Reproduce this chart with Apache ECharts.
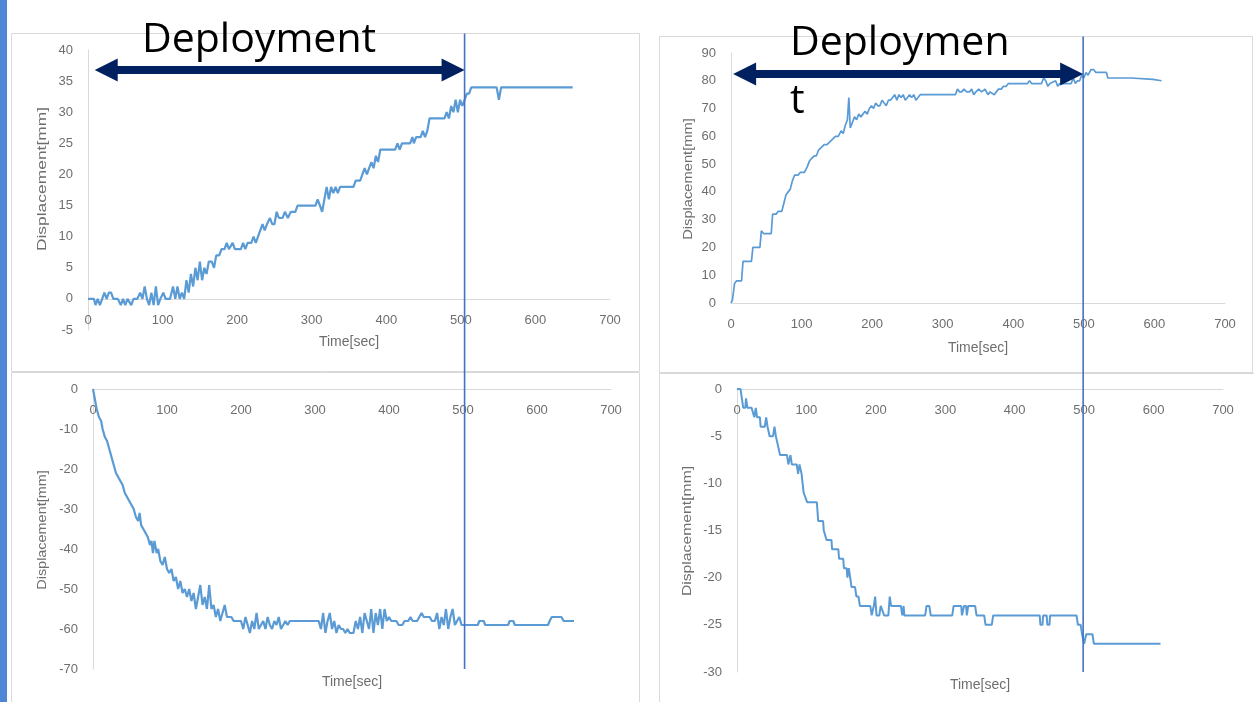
<!DOCTYPE html>
<html><head><meta charset="utf-8">
<script src="https://cdn.jsdelivr.net/npm/echarts@6/dist/echarts.min.js"></script>
<style>html,body{margin:0;padding:0;background:#fff;overflow:hidden}#c{width:1254px;height:702px}</style>
</head><body><div id="c"></div>
<script>
// ---- tick labels ----
const timeTicks = [0, 100, 200, 300, 400, 500, 600, 700];
const tlTicks = [-5, 0, 5, 10, 15, 20, 25, 30, 35, 40];
const trTicks = [0, 10, 20, 30, 40, 50, 60, 70, 80, 90];
const blTicks = [-70, -60, -50, -40, -30, -20, -10, 0];
const brTicks = [-30, -25, -20, -15, -10, -5, 0];

// ---- top-left series ----
const tlTime = [0,8,10,13,16,19,22,25,28,31, 34,40,44,47,50,53,58,61,66,70, 73,76,79,82,85,88,91,94,97,101,
  104,110,114,117,120,123,126,129,132,135, 138,141,144,147,150,153,156,159,162,166, 169,172,176,179,183,186,189,194,197,205,
  208,211,214,219,222,225,228,231,234,237, 240,244,247,250,253,256,261,264,268,272, 278,281,305,308,311,314,317,320,323,326,
  329,332,335,338,356,359,365,368,371,374, 377,380,383,386,389,392,412,415,418,421, 432,435,437,440,446,449,452,455,458,478,
  481,484,487,490,493,496,499,502,505,508, 511,514,548,551,554,650];
const tlDisp = [0,0,-1,0,-1,0,1,0,1,1, 0,0,-1,0,-1,0,-1,0,0,1, 0,2,0,-1,1,-1,2,-1,0,1,
  0,0,2,0,2,0,1,0,3,1, 4,2,5,3,6,3,5,4,6,6, 5,7,7,8,8,9,8,9,8,8,
  9,8,9,9,10,9,10,11,12,11, 12,13,12,12,14,13,13,14,13,14, 14,15,15,16,15,14,16,18,16,18,
  17,18,17,18,18,19,19,20,21,20, 21,22,21,23,22,24,24,25,24,25, 25,26,25,26,26,27,26,27,29,29,
  30,29,31,30,32,30,32,31,32,33, 33,34,34,32,34,34];

// ---- top-right series ----
const trTime = [0,2,5,8,15,17,29,31,41,43, 46,57,59,64,67,72,75,78,81,84, 87,90,95,98,104,108,111,114,118,121,
  124,128,132,136,140,144,148,152,156,159, 162,165,167,169,172,175,178,181,184,187, 190,193,196,199,202,205,208,211,214,217,
  220,223,226,229,232,235,238,241,244,247, 250,253,256,259,262,265,268,275,318,321, 324,327,330,334,338,341,344,347,351,355,
  360,364,367,373,376,379,383,386,390,393, 420,423,426,440,443,446,449,452,460,463, 466,482,485,488,491,494,497,500,503,506,
  510,514,517,532,534,567,569,598,600,610];
const trDisp = [0,1,7,8,8,15,15,20,20,26, 25,25,32,32,33,33,36,39,40,41, 44,46,46,47,47,49,51,52,53,53,
  55,56,57,57,58,59,60,60,62,61, 64,66,74,63,65,67,66,68,67,68, 69,68,70,71,70,72,71,71,73,72,
  71,73,73,74,75,73,75,74,75,73, 74,75,74,75,73,74,75,75,75,77, 76,76,77,76,76,77,75,76,77,76,
  77,75,76,75,76,77,77,78,78,79, 79,80,79,79,81,80,78,79,80,78, 79,79,81,79,80,80,82,81,83,82,
  84,84,83,83,81,81,80.5,80.5,80,80];

// ---- bottom-left series ----
const blTime = [0,2,5,8,11,13,16,19,22,25, 28,31,34,37,40,43,46,49,52,55, 58,61,63,65,68,71,74,77,79,81,
  83,86,88,91,94,97,100,103,106,109, 112,115,118,121,124,127,130,133,136,139, 142,145,148,151,154,157,160,163,166,169,
  172,175,178,181,184,187,190,195,200,203, 206,209,212,215,218,221,224,227,230,233, 236,239,242,245,248,251,254,257,260,263,
  266,270,305,308,311,314,317,320,323,326, 329,332,335,338,341,344,347,352,355,358, 361,364,367,370,373,376,379,382,385,388,
  391,394,397,400,403,410,413,418,421,426, 429,432,438,441,444,447,455,458,462,465, 468,471,474,477,480,483,486,489,492,495,
  498,503,520,522,528,530,561,563,568,570, 615,617,620,633,636,650];
const blDisp = [0,-2,-5,-7,-8,-10,-12,-13,-15,-17, -19,-21,-22,-23,-24,-26,-27,-28,-29,-30, -32,-33,-31,-34,-35,-36,-37,-39,-38,-41,
  -38,-41,-40,-43,-44,-42,-45,-46,-45,-48, -47,-50,-48,-51,-50,-52,-50,-53,-51,-55, -52,-49,-54,-52,-55,-49,-55,-54,-57,-55,
  -58,-56,-54,-57,-57,-57,-58,-58,-58,-60, -57,-59,-61,-58,-60,-56,-60,-59,-58,-60, -57,-59,-60,-58,-59,-57,-60,-59,-58,-59,
  -58,-58,-58,-60,-56,-61,-58,-56,-60,-58, -61,-59,-60,-60,-61,-60,-61,-61,-58,-60, -57,-61,-56,-58,-60,-55,-61,-56,-59,-55,
  -60,-55,-58,-57,-58,-58,-59,-59,-58,-58, -57,-58,-58,-57,-56,-57,-57,-58,-58,-56, -60,-57,-59,-55,-60,-57,-55,-59,-58,-57,
  -59,-59,-59,-58,-58,-59,-59,-58,-58,-59, -59,-58,-57,-57,-58,-58];

// ---- bottom-right series ----
const brTime = [0,5,7,9,12,13,15,21,23,25, 27,29,33,34,40,42,44,47,52,54, 56,59,62,72,74,77,79,86,88,90,
  93,96,101,115,117,124,125,129,136,137, 146,147,153,154,158,159,161,163,165,170, 172,175,177,192,194,197,199,201,205,207,
  212,218,220,222,236,238,240,241,271,273, 277,279,310,312,323,324,326,327,330,331, 333,343,345,356,358,367,369,436,437,440,
  441,446,447,450,451,489,491,495,497,500, 503,506,512,514,610];
const brDisp = [0,0,-1,-2,-2,-1,-2,-2,-2,-3, -2,-3,-3,-4,-4,-3,-4,-5,-5,-4, -5,-6,-7,-7,-8,-7,-8,-8,-9,-8,
  -9,-11,-12,-12,-14,-14,-15,-16,-16,-17, -17,-18,-18,-19,-19,-20,-19,-20,-21,-21, -22,-22,-23,-23,-24,-23,-22,-24,-24,-23,
  -24,-24,-22,-23,-23,-24,-23,-24,-24,-23, -23,-24,-24,-23,-23,-24,-24,-23,-23,-24, -23,-23,-24,-24,-25,-25,-24,-24,-25,-25,
  -24,-24,-25,-25,-24,-24,-25,-25,-26,-27, -26,-26,-26,-27,-27];

// deployment annotations (data units)
const deployTL = {start: 9, end: 505, level: 36.8};
const deployTR = {start: 3, end: 499, level: 82.4};

const lineColor = '#5b9bd5';
const axisGray = '#d9d9d9';
const labelGray = '#6e6e6e';
const labelFont = 'Liberation Sans';

const zip = (a, b) => a.map((t, i) => [t, b[i]]);

const grids = [
  {left: 88, top: 50, width: 522, height: 280},
  {left: 731, top: 53, width: 494, height: 250},
  {left: 93, top: 389, width: 518, height: 280},
  {left: 737, top: 389, width: 486, height: 283}
];

function xAxis(gi, nameGap) {
  return {
    type: 'value', gridIndex: gi, position: 'bottom', offset: 0,
    min: timeTicks[0], max: timeTicks[timeTicks.length - 1], interval: timeTicks[1] - timeTicks[0],
    axisLine: {show: true, onZero: false, lineStyle: {color: axisGray, width: 1}},
    axisTick: {show: false}, splitLine: {show: false},
    axisLabel: {color: labelGray, fontSize: 13, fontFamily: labelFont, margin: 15},
    name: 'Time[sec]', nameLocation: 'middle', nameGap: nameGap,
    nameTextStyle: {color: labelGray, fontSize: 14, fontFamily: labelFont}
  };
}
function yAxis(gi, ticks) {
  return {
    type: 'value', gridIndex: gi,
    min: ticks[0], max: ticks[ticks.length - 1], interval: ticks[1] - ticks[0],
    axisLine: {show: true, onZero: false, lineStyle: {color: axisGray, width: 1}},
    axisTick: {show: false}, splitLine: {show: false},
    axisLabel: {color: labelGray, fontSize: 13, fontFamily: labelFont, margin: 15}
  };
}
function series(gi, t, v, w) {
  return {type: 'line', xAxisIndex: gi, yAxisIndex: gi, data: zip(t, v), showSymbol: false, symbol: 'none',
    lineStyle: {color: lineColor, width: w}, itemStyle: {color: lineColor}, animation: false, z: 3};
}

const chart = echarts.init(document.getElementById('c'), null, {renderer: 'canvas'});
chart.setOption({
  animation: false,
  backgroundColor: '#ffffff',
  grid: grids.map(g => Object.assign({containLabel: false, outerBoundsMode: 'none'}, g)),
  xAxis: [xAxis(0, 36), xAxis(1, 38), xAxis(2, 286), xAxis(3, 289)],
  yAxis: [yAxis(0, tlTicks), yAxis(1, trTicks), yAxis(2, blTicks), yAxis(3, brTicks)],
  series: [series(0, tlTime, tlDisp, 2.2), series(1, trTime, trDisp, 1.7), series(2, blTime, blDisp, 2.2), series(3, brTime, brDisp, 2)]
});

const px = (gi, pt) => chart.convertToPixel({gridIndex: gi}, pt);

// move each time axis (line, labels and title) onto the zero displacement line
chart.setOption({
  xAxis: grids.map((g, gi) => ({offset: px(gi, [0, 0])[1] - (g.top + g.height)}))
});

function arrow(x1, x2, y) {
  const hl = 23, hh = 11.5, st = 4;
  return [[x1, y], [x1 + hl, y - hh], [x1 + hl, y - st], [x2 - hl, y - st], [x2 - hl, y - hh], [x2, y],
          [x2 - hl, y + hh], [x2 - hl, y + st], [x1 + hl, y + st], [x1 + hl, y + hh]];
}
function yName(x, y, scale) {
  return {type: 'text', x: x, y: y, rotation: Math.PI / 2, scaleX: scale, z: 50,
    style: {text: 'Displacement[mm]', fill: labelGray, fontSize: 13, fontFamily: labelFont, align: 'center', verticalAlign: 'middle'}};
}

const panels = [
  {x: 11.5, y: 33.5, w: 628, h: 338},
  {x: 659.5, y: 36.5, w: 593, h: 336},
  {x: 11.5, y: 372.5, w: 628, h: 340},
  {x: 659.5, y: 373.5, w: 600, h: 340}
];

const aL = px(0, [deployTL.start, deployTL.level]);
const aR = px(0, [deployTL.end, deployTL.level]);
const bL = px(1, [deployTR.start, deployTR.level]);
const bR = px(1, [deployTR.end, deployTR.level]);
const vTLbottom = px(2, [0, blTicks[0]])[1];
const vTRbottom = px(3, [0, brTicks[0]])[1];

const elements = [
  {type: 'rect', shape: {x: 0, y: 0, width: 7, height: 702}, style: {fill: '#4f86d6'}, z: 1},
  ...panels.map(p => ({type: 'rect', shape: {x: p.x, y: p.y, width: p.w, height: p.h}, style: {fill: null, stroke: axisGray, lineWidth: 1}, z: 0})),
  {type: 'line', shape: {x1: aR[0], y1: panels[0].y, x2: aR[0], y2: vTLbottom}, style: {stroke: '#4472c4', lineWidth: 1.6}, z: 60},
  {type: 'line', shape: {x1: bR[0], y1: panels[1].y, x2: bR[0], y2: vTRbottom}, style: {stroke: '#4472c4', lineWidth: 1.6}, z: 60},
  {type: 'polygon', shape: {points: arrow(aL[0], aR[0], aL[1])}, style: {fill: '#002060'}, z: 70},
  {type: 'polygon', shape: {points: arrow(bL[0], bR[0], bL[1])}, style: {fill: '#002060'}, z: 70},
  {type: 'text', x: 142, y: 40, z: 80, style: {text: 'Deployment', fill: '#000000', fontSize: 41, fontFamily: 'Open Sans', align: 'left', verticalAlign: 'middle'}},
  {type: 'text', x: 790, y: 14, z: 80, style: {text: 'Deploymen\nt', fill: '#000000', fontSize: 41, lineHeight: 58, fontFamily: 'Open Sans', align: 'left', verticalAlign: 'top'}},
  yName(42, 179, 1.34),
  yName(688.5, 179, 1.13),
  yName(42, 530, 1.11),
  yName(687, 531, 1.21)
];
chart.setOption({graphic: {elements: elements}});
</script>
</body></html>
